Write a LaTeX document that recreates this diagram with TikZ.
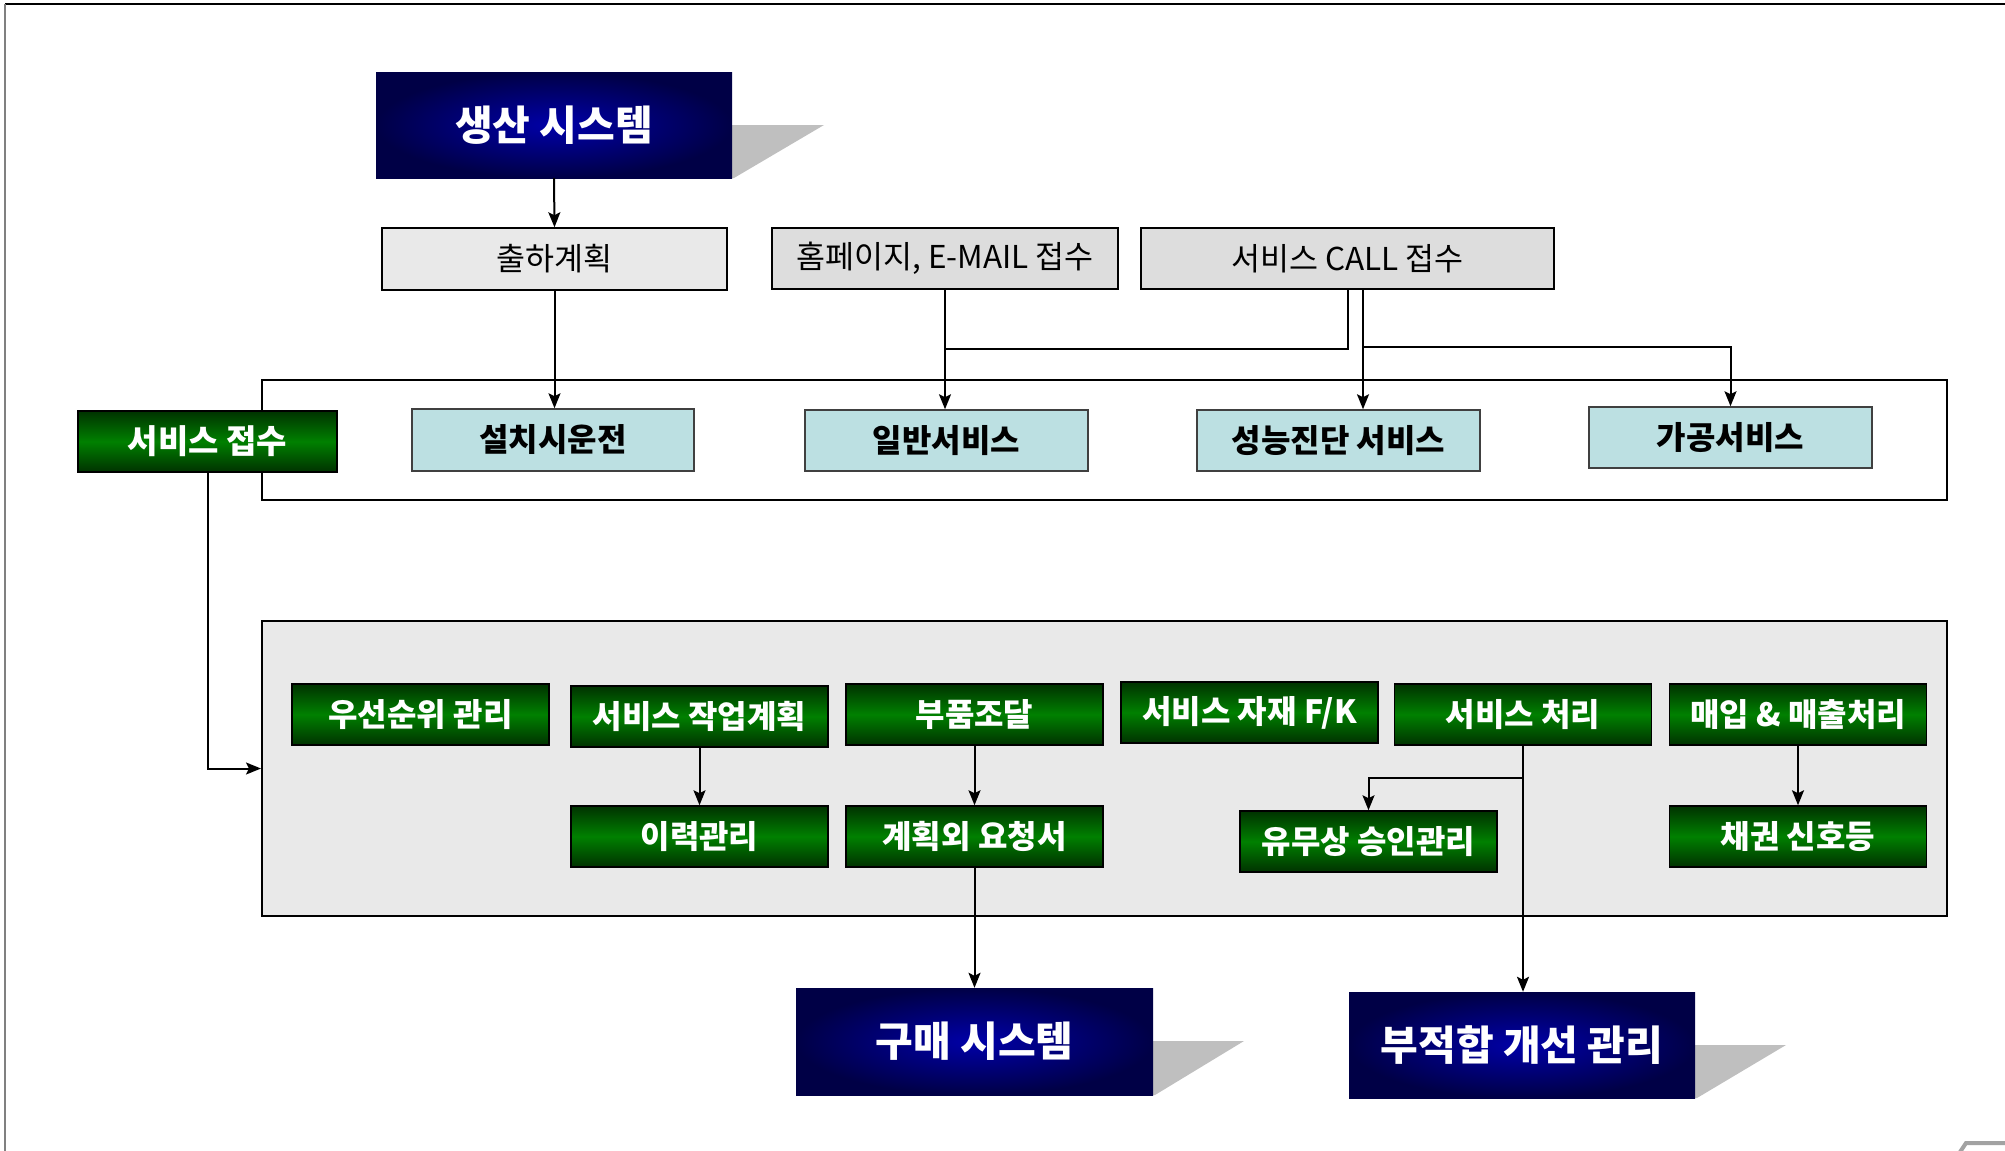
\documentclass[tikz,border=0pt]{standalone}
\usepackage{fontspec}
\newfontfamily\kr{Noto Sans CJK KR}
\usetikzlibrary{arrows.meta}
\definecolor{navyin}{RGB}{0,0,168}
\definecolor{navyout}{RGB}{0,0,70}
\definecolor{gdark}{RGB}{0,50,0}
\definecolor{gmid}{RGB}{0,128,0}
\definecolor{cyanfill}{RGB}{188,224,226}
\definecolor{grayA}{RGB}{233,233,233}
\definecolor{grayB}{RGB}{221,221,221}
\definecolor{shadowgray}{RGB}{191,191,191}
\begin{document}
\begin{tikzpicture}[x=1pt,y=-1pt,
  every node/.style={font=\kr, inner sep=0pt},
  bluebox/.style={rectangle, inner color=navyin, outer color=navyout, text=white,
    font=\kr\bfseries\fontsize{41}{48}\selectfont},
  greenbox/.style={rectangle, top color=gdark, bottom color=gdark, middle color=gmid,
    draw=black, line width=1.5pt, text=white, minimum width=257pt, minimum height=61pt,
    font=\kr\bfseries\fontsize{32}{38}\selectfont},
  cyanbox/.style={rectangle, fill=cyanfill, draw=black!75, line width=1.5pt,
    minimum width=283pt, minimum height=61pt,
    font=\kr\bfseries\fontsize{32}{38}\selectfont},
  graybox/.style={rectangle, draw=black, line width=1.5pt, minimum height=61pt,
    font=\kr\fontsize{31.5}{36}\selectfont},
  shadowpoly/.style={fill=shadowgray, draw=none},
  conn/.style={draw=black, line width=2pt},
  arr/.style={conn, -{Stealth[length=15pt,width=12pt,inset=3pt]}}
]
\useasboundingbox (0,0) rectangle (2005,1151);
% page frame
\draw[line width=2pt] (5,4) -- (2005,4);
\draw[gray, line width=2.5pt] (5,4) -- (5,1151);
\draw[shadowgray!85!black, line width=4pt] (1960,1152) -- (1966,1143) -- (2005,1143);

% containers
\node[rectangle, draw=black, line width=2pt, fill=white, minimum width=1685pt, minimum height=120pt] (box1) at (1104.5,440) {};
\node[rectangle, draw=black, line width=2pt, fill=grayA, minimum width=1685pt, minimum height=295pt] (box2) at (1104.5,768.5) {};

% shadows of blue boxes
\fill[shadowpoly] (732,125) -- (824,125) -- (734,178) -- (732,178) -- cycle;
\fill[shadowpoly] (1153,1041) -- (1244,1041) -- (1155,1095) -- (1153,1095) -- cycle;
\fill[shadowpoly] (1695,1045) -- (1786,1045) -- (1697,1098) -- (1695,1098) -- cycle;

% blue boxes
\node[bluebox, minimum width=356pt, minimum height=106pt] (prod) at (554,125) {생산 시스템};
\node[bluebox, minimum width=357pt, minimum height=107pt] (buy) at (974.5,1041.5) {구매 시스템};
\node[bluebox, minimum width=346pt, minimum height=106pt] (nc) at (1522,1045) {부적합 개선 관리};

% gray boxes
\node[graybox, fill=grayA, minimum width=345pt, minimum height=62pt] (plan) at (554.5,259) {출하계획};
\node[graybox, fill=grayB, minimum width=346pt] (web) at (945,258.5) {홈페이지, E-MAIL 접수};
\node[graybox, fill=grayB, minimum width=413pt] (call) at (1347.5,258.5) {서비스 CALL 접수};

% cyan boxes
\node[cyanbox, minimum width=282pt, minimum height=62pt] (install) at (553,440) {설치시운전};
\node[cyanbox] (general) at (946.5,440.5) {일반서비스};
\node[cyanbox] (perf) at (1338.5,440.5) {성능진단 서비스};
\node[cyanbox] (proc) at (1730.5,437.5) {가공서비스};

% reception
\node[greenbox, minimum width=259pt, font=\kr\bfseries\fontsize{33}{38}\selectfont] (recv) at (207.5,441.5) {서비스 접수};

% green row 1
\node[greenbox] (g1) at (420.5,714.5) {우선순위 관리};
\node[greenbox] (g2) at (699.5,716.5) {서비스 작업계획};
\node[greenbox] (g3) at (974.5,714.5) {부품조달};
\node[greenbox] (g4) at (1249.5,712.5) {서비스 자재 F/K};
\node[greenbox] (g5) at (1523,714.5) {서비스 처리};
\node[greenbox] (g6) at (1798,714.5) {매입 \& 매출처리};
% green row 2
\node[greenbox] (h2) at (699.5,836.5) {이력관리};
\node[greenbox] (h3) at (974.5,836.5) {계획외 요청서};
\node[greenbox] (h5) at (1368.5,841.5) {유무상 승인관리};
\node[greenbox] (h6) at (1798,836.5) {채권 신호등};

% connectors
\draw[arr] (prod.south) -- (plan.north);
\draw[arr] (plan.south) -- (plan.south |- install.north);
\draw[arr] (web.south) -- (web.south |- general.north);
\coordinate (j1) at (945,349);
\draw[conn] (call.south) |- (j1);
\coordinate (cs2) at (1363,289);
\draw[arr] (cs2) -- (cs2 |- perf.north);
\coordinate (j2) at (1363,347);
\draw[arr] (j2) -| (proc.north);
\draw[arr] (recv.south) |- (box2.west);
\draw[arr] (g2.south) -- (h2.north);
\draw[arr] (g3.south) -- (h3.north);
\draw[arr] (g6.south) -- (h6.north);
\draw[arr] (h3.south) -- (buy.north);
\draw[arr] (g5.south) -- (g5.south |- nc.north);
\coordinate (j3) at (1523,778);
\draw[arr] (j3) -| (h5.north);
\end{tikzpicture}
\end{document}
